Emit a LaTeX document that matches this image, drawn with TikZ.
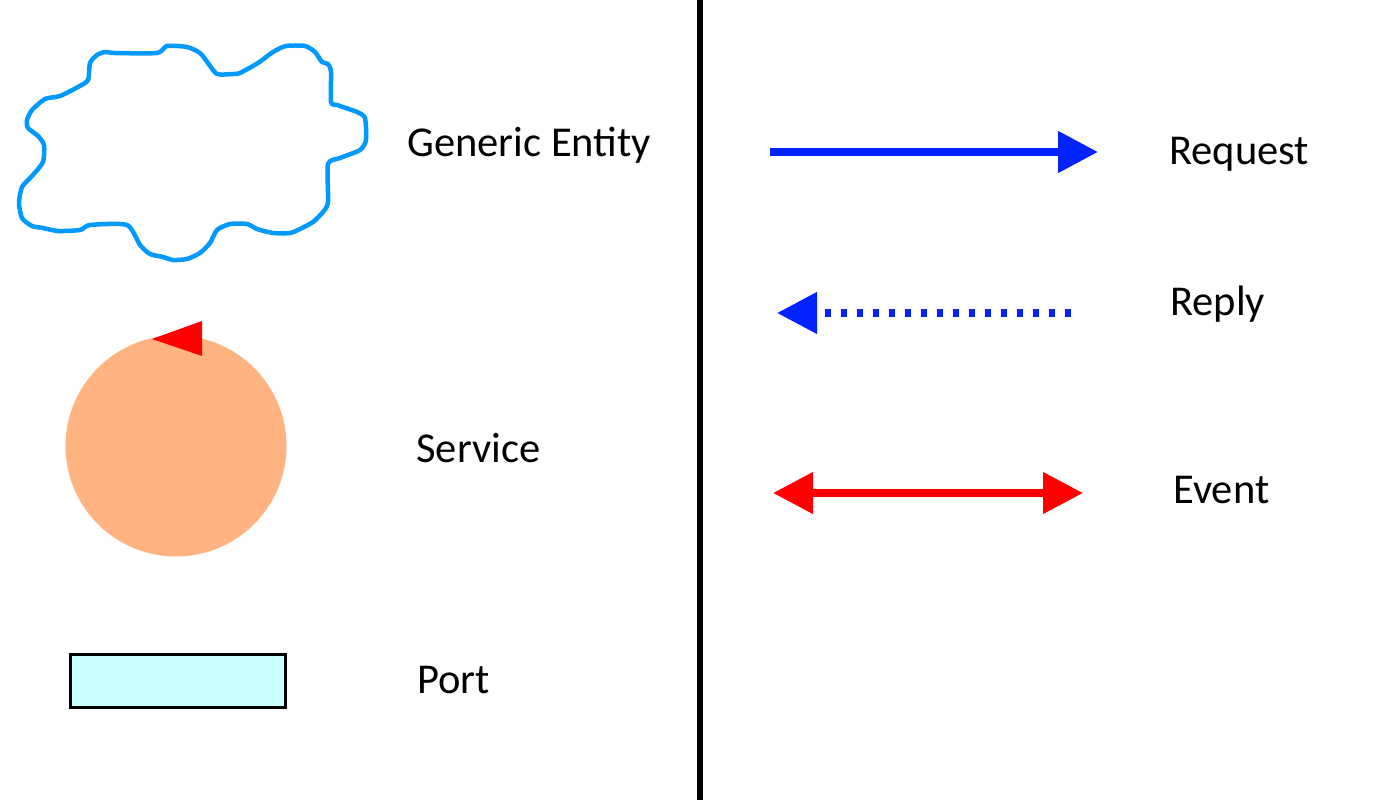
\documentclass[tikz,border=0pt]{standalone}
\usepackage{fontspec}
\setmainfont{Carlito}
\usetikzlibrary{arrows.meta}
\definecolor{cloudblue}{RGB}{0,153,255}
\definecolor{svcfill}{RGB}{255,179,128}
\definecolor{portfill}{RGB}{200,255,255}
\definecolor{msgblue}{RGB}{0,35,255}
\tikzset{bighead/.tip={Triangle[length=0.8cm,width=0.8cm]}}
\begin{document}
\begin{tikzpicture}[x=0.02cm,y=-0.02cm,
  lbl/.style={anchor=base west,inner sep=0pt,font=\fontsize{24.2}{29}\selectfont}]
\useasboundingbox (0,0) rectangle (1400,800);
\draw[line width=0.11cm] (700,0) -- (700,800);
% legend shapes
\draw[cloudblue,line width=0.09cm,line join=round] plot[smooth cycle,tension=0.4] coordinates {
 (90,63) (97,55) (105,52) (115,53) (157,53) (167,46) (187,47) (200,53) (208,63) (217,74)
 (233,74) (240,73) (258,63) (273,52) (286,46) (305,46) (315,52) (322,62) (328,64) (331,72)
 (331,102) (337,105) (357,112) (365,118) (366,140) (360,150) (340,158) (328,164) (328,202)
 (323,212) (313,222) (300,229) (290,233) (273,233) (257,229) (247,224) (230,224) (217,230)
 (210,243) (200,253) (187,259) (173,260) (163,257) (150,254) (140,245) (127,225) (90,225)
 (80,230) (58,231) (43,228) (32,226) (22,218) (19,203) (22,187) (32,176) (43,162) (44,145)
 (38,136) (28,128) (27,120) (32,110) (45,99) (60,96) (78,87) (88,80)};
\node[circle,fill=svcfill,minimum size=4.42cm,inner sep=0pt] (service) at (176,446) {};
\fill[red] (152,339) -- (202,321) -- (202,356) -- cycle;
\node[draw,line width=0.07cm,fill=portfill,minimum width=4.3cm,minimum height=1.06cm,inner sep=0pt] (port) at (178,681) {};
\node[lbl] (entitytxt) at (407,157) {Generic Entity};
\node[lbl] (servicetxt) at (416,462) {Service};
\node[lbl] (porttxt) at (417,693) {Port};
% messages
\coordinate (reqA) at (770,152);
\coordinate (reqB) at (1098,152);
\coordinate (repA) at (1071,313);
\coordinate (repB) at (777,313);
\coordinate (evA) at (773,493);
\coordinate (evB) at (1083,493);
\draw[msgblue,line width=0.16cm] [-bighead] (reqA) -- (reqB);
\draw[msgblue,line width=0.15cm,dash pattern=on 0.13cm off 0.19cm] [-bighead] (repA) -- (repB);
\draw[red,line width=0.15cm] [bighead-bighead] (evA) -- (evB);
\node[lbl] (reqtxt) at (1169,165) {Request};
\node[lbl] (reptxt) at (1170,316) {Reply};
\node[lbl] (evtxt) at (1173,503) {Event};
\end{tikzpicture}
\end{document}
